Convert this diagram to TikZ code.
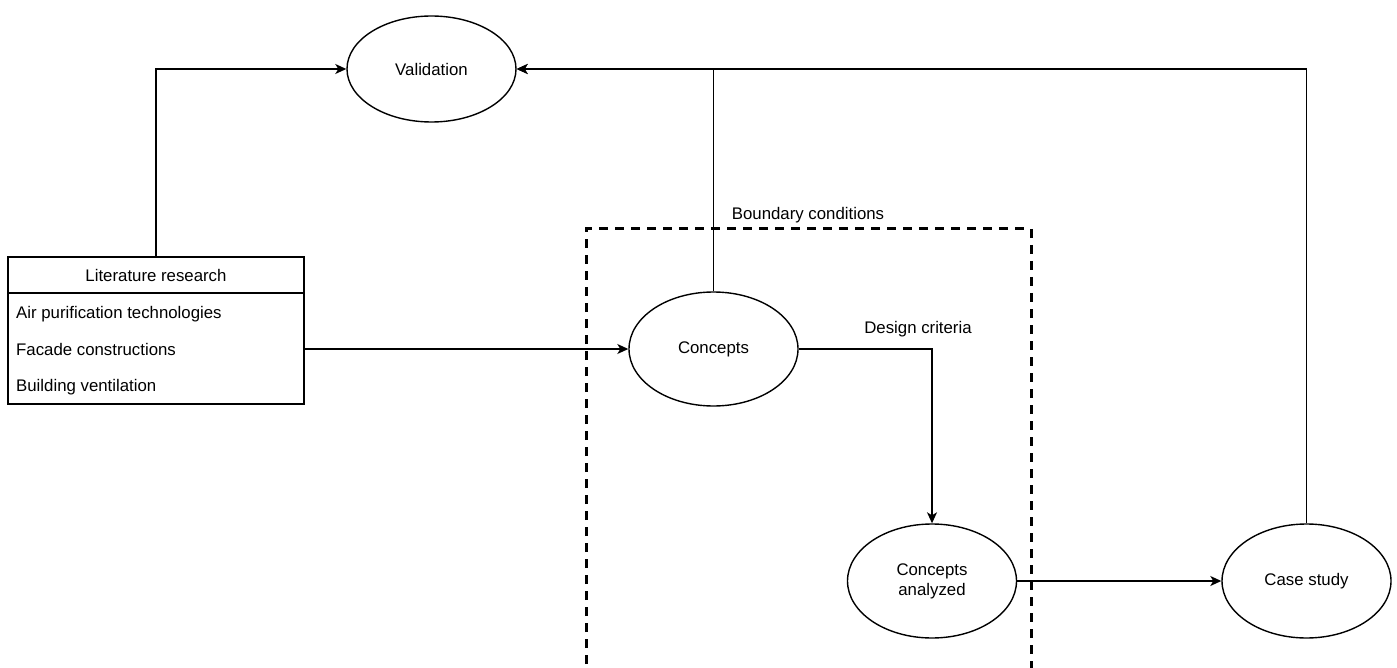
\documentclass[tikz,border=0pt]{standalone}
\usepackage{fontspec}
\setmainfont{Liberation Sans}
\usetikzlibrary{arrows.meta,shapes.geometric}
\begin{document}
\begin{tikzpicture}[x=1pt,y=-1pt,
  every node/.style={font=\fontsize{16.8}{20}\selectfont},
  oval/.style={draw,ellipse,line width=1.4pt,minimum width=169pt,minimum height=114pt,inner sep=0pt,align=center},
  conn/.style={line width=1.4pt,-{Stealth[length=11pt,width=10pt,inset=3pt]}},
  plain/.style={line width=1.4pt},
  lbl/.style={inner sep=0pt},
  bnd/.style={line width=3pt,dash pattern=on 9pt off 7pt}]
\useasboundingbox (0,0) rectangle (1397,668);
% boundary
\draw[bnd] (586,680) -- (586,229) -- (1031,229) -- (1031,680);
\node[lbl] (bc) at (808,215) {Boundary conditions};
% nodes
\node[oval,minimum height=106pt] (val) at (431.5,69) {Validation};
\node[oval] (con) at (713.5,349) {Concepts};
\node[oval] (ana) at (932,581) {Concepts\\analyzed};
\node[oval] (cs) at (1306.5,581) {Case study};
% literature box
\draw[plain] (8,257) rectangle (304,404);
\draw[plain] (8,293) -- (304,293);
\coordinate (littop) at (156,257);
\coordinate (litright) at (304,349);
\node[lbl,anchor=base] (lh) at (156,282) {Literature research};
\node[lbl,anchor=base west] (l1) at (16,318) {Air purification technologies};
\node[lbl,anchor=base west] (l2) at (16,355) {Facade constructions};
\node[lbl,anchor=base west] (l3) at (16,391) {Building ventilation};
% connectors
\draw[conn] (littop) |- (val.west);
\draw[conn] (litright) -- (con.west);
\draw[conn] (con.north) |- (val.east);
\draw[conn] (cs.north) |- (val.east);
\draw[conn] (con.east) -| (ana.north);
\node[lbl] (dc) at (918,329) {Design criteria};
\draw[conn] (ana.east) -- (cs.west);
\end{tikzpicture}
\end{document}
